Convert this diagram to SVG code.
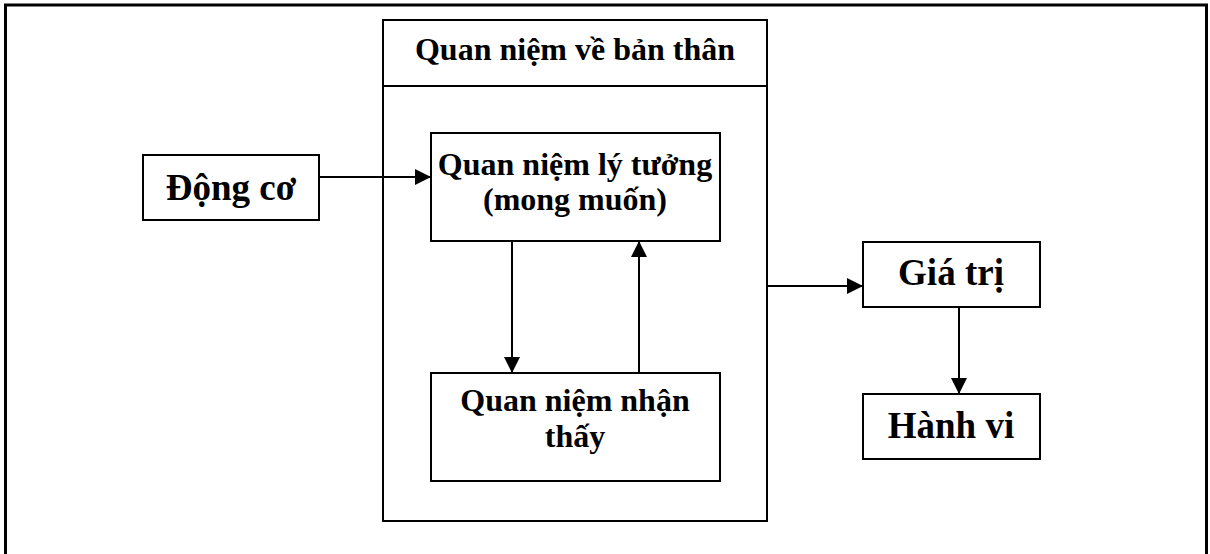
<svg xmlns="http://www.w3.org/2000/svg" width="1210" height="554" viewBox="0 0 1210 554">
<style>
.box{fill:#fff;stroke:#000;stroke-width:2}
.t{font-family:"Liberation Serif","Times New Roman",serif;font-weight:bold;fill:#000;text-anchor:middle}
.c{stroke:#000;stroke-width:2;fill:none}
</style>
<defs>
<marker id="ah" viewBox="0 0 10 10" refX="10" refY="5" markerWidth="16" markerHeight="16" markerUnits="userSpaceOnUse" orient="auto">
<path d="M0,0 L10,5 L0,10 z" fill="#000"/>
</marker>
</defs>
<rect x="0" y="0" width="1210" height="554" fill="#fff"/>
<path d="M5.5,560 V5 H1206.5 V560" fill="none" stroke="#000" stroke-width="3"/>
<g id="container">
<rect class="box" x="383" y="20" width="384" height="501"/>
<line x1="383" y1="86" x2="767" y2="86" stroke="#000" stroke-width="2"/>
<text class="t" x="575" y="60" font-size="32">Quan niệm về bản thân</text>
</g>
<g id="dongco">
<rect class="box" x="143" y="155" width="176" height="65"/>
<text class="t" x="231" y="200" font-size="37">Động cơ</text>
</g>
<g id="lytuong">
<rect class="box" x="431" y="133" width="289" height="108"/>
<text class="t" x="575" y="175" font-size="32">Quan niệm lý tưởng</text>
<text class="t" x="575" y="210" font-size="32">(mong muốn)</text>
</g>
<g id="nhanthay">
<rect class="box" x="431" y="373" width="289" height="108"/>
<text class="t" x="575" y="411" font-size="32">Quan niệm nhận</text>
<text class="t" x="575" y="447" font-size="32">thấy</text>
</g>
<g id="giatri">
<rect class="box" x="863" y="242" width="177" height="65"/>
<text class="t" x="951" y="285" font-size="37">Giá trị</text>
</g>
<g id="hanhvi">
<rect class="box" x="863" y="394" width="177" height="65"/>
<text class="t" x="951" y="438" font-size="37">Hành vi</text>
</g>
<g id="connectors">
<line class="c" x1="319" y1="177" x2="431" y2="177" marker-end="url(#ah)"/>
<line class="c" x1="512" y1="241" x2="512" y2="373" marker-end="url(#ah)"/>
<line class="c" x1="639" y1="373" x2="639" y2="241" marker-end="url(#ah)"/>
<line class="c" x1="767" y1="286" x2="863" y2="286" marker-end="url(#ah)"/>
<line class="c" x1="959" y1="307" x2="959" y2="394" marker-end="url(#ah)"/>
</g>
</svg>
